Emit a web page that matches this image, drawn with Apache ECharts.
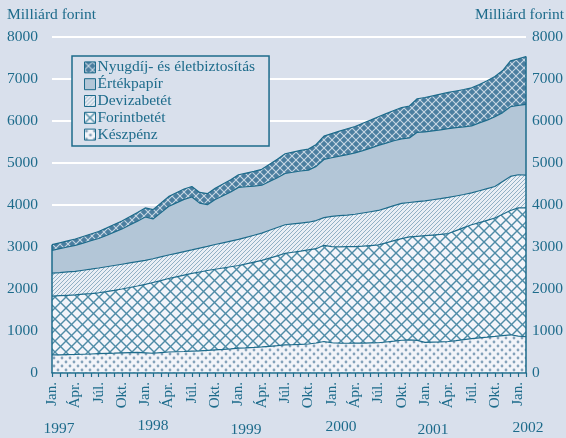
<!DOCTYPE html>
<html><head><meta charset="utf-8">
<script src="https://cdn.jsdelivr.net/npm/echarts/dist/echarts.min.js"></script>
<style>html,body{margin:0;padding:0;background:#d9e0ec}#c{width:566px;height:438px}</style>
</head><body><div id="c"></div>
<script>
// ---- data (milliárd forint), monthly Jan 1997 – Feb 2002 ----
const yearLabels = ['1997','1998','1999','2000','2001','2002'];
const monthNames = ['Jan.','Febr.','Márc.','Ápr.','Máj.','Jún.','Júl.','Aug.','Szept.','Okt.','Nov.','Dec.'];
const categories = [];
for (let y = 1997; y <= 2002; y++) for (let m = 0; m < 12; m++) if (categories.length < 62) categories.push(y + ' ' + monthNames[m]);

const keszpenz = [430,432,436,440,446,452,460,466,472,480,486,490,480,470,486,500,506,512,520,528,538,550,562,575,590,598,608,620,636,652,670,675,682,690,715,750,720,712,708,710,712,716,720,738,758,780,790,775,730,736,742,750,772,796,820,836,852,870,890,910,880,866];
const forintbetet = [1400,1408,1414,1420,1430,1440,1450,1472,1496,1520,1549,1582,1630,1685,1714,1750,1784,1818,1850,1877,1902,1920,1938,1955,1970,2002,2032,2060,2099,2138,2180,2200,2218,2240,2245,2290,2290,2293,2300,2300,2308,2319,2330,2362,2392,2420,2450,2480,2540,2549,2558,2570,2618,2664,2710,2744,2783,2820,2890,2960,3050,3064];
const devizabetet = [550,552,556,560,570,580,590,592,592,590,585,578,570,565,565,560,560,560,560,570,575,590,600,610,620,630,640,650,665,675,680,675,670,660,670,660,720,740,752,770,790,805,820,825,835,840,820,825,830,840,850,860,825,790,760,760,755,750,780,810,790,780];
const ertekpapir = [540,568,594,620,648,676,702,745,793,840,902,964,1035,948,1047,1155,1200,1245,1260,1070,993,1070,1120,1170,1240,1205,1170,1140,1160,1185,1220,1230,1240,1240,1290,1385,1395,1420,1440,1460,1485,1515,1550,1550,1545,1535,1537,1650,1640,1640,1640,1640,1625,1610,1595,1615,1630,1660,1640,1660,1650,1685];
const nyugdij = [135,140,145,150,156,162,168,175,182,190,198,206,215,222,228,235,240,245,250,255,262,270,280,290,300,325,350,380,410,440,470,480,490,500,520,555,575,595,615,630,650,665,680,700,720,745,760,800,820,835,850,860,875,890,905,915,940,960,1000,1090,1110,1140];
const yTicks = [0,1000,2000,3000,4000,5000,6000,7000,8000];

// ---- styles ----
const TEAL = '#1d6b8b';
const FONT = "'Liberation Serif','Times New Roman',serif";

function tile(w, h, fn) {
  const c = document.createElement('canvas'); c.width = w; c.height = h;
  const g = c.getContext('2d'); fn(g, w, h); return c;
}
function lattice(g, p, bg, col, lw) {
  g.fillStyle = bg; g.fillRect(0, 0, p, p);
  g.strokeStyle = col; g.lineWidth = lw;
  for (let k = -1; k <= 1; k++) {
    g.beginPath(); g.moveTo(k * p, 0); g.lineTo(k * p + p, p); g.stroke();
    g.beginPath(); g.moveTo(k * p + p, 0); g.lineTo(k * p, p); g.stroke();
  }
}
const patKesz = tile(8, 8, (g) => {
  g.fillStyle = '#f2f4f9'; g.fillRect(0, 0, 8, 8);
  g.fillStyle = '#84a2ba';
  g.beginPath(); g.arc(2, 2, 1.4, 0, 7); g.fill();
  g.beginPath(); g.arc(6, 6, 1.4, 0, 7); g.fill();
});
const patForint = tile(11, 11, (g) => lattice(g, 11, '#f3f5fa', '#4f8ca6', 1.4));
const patDeviza = tile(4, 4, (g) => {
  g.fillStyle = '#e9eef5'; g.fillRect(0, 0, 4, 4);
  g.strokeStyle = '#87a8c0'; g.lineWidth = 0.9;
  for (let k = -1; k <= 1; k++) { g.beginPath(); g.moveTo(k * 4, 4); g.lineTo(k * 4 + 4, 0); g.stroke(); }
});
const patNyug = tile(8, 8, (g) => lattice(g, 8, '#4b7e9f', '#c9d8e4', 1.1));
const colErtek = '#b3c6d7';

const fills = {
  'Készpénz': { image: patKesz, repeat: 'repeat' },
  'Forintbetét': { image: patForint, repeat: 'repeat' },
  'Devizabetét': { image: patDeviza, repeat: 'repeat' },
  'Értékpapír': colErtek,
  'Nyugdíj- és életbiztosítás': { image: patNyug, repeat: 'repeat' }
};
const seriesDefs = [
  ['Készpénz', keszpenz],
  ['Forintbetét', forintbetet],
  ['Devizabetét', devizabetet],
  ['Értékpapír', ertekpapir],
  ['Nyugdíj- és életbiztosítás', nyugdij]
];
const last = categories.length - 1;
const total = (i) => seriesDefs.reduce((s, d) => s + d[1][i], 0);

const series = seriesDefs.map(([name, data], idx) => {
  const s = {
    name, type: 'line', stack: 'all', data, showSymbol: false, symbol: 'none',
    lineStyle: { color: TEAL, width: 1.2 },
    itemStyle: { color: fills[name] },
    areaStyle: { color: fills[name], opacity: 1 },
    emphasis: { disabled: true }, animation: false, z: 2
  };
  if (idx === seriesDefs.length - 1) {
    s.markLine = {
      silent: true, symbol: ['none', 'none'], label: { show: false },
      lineStyle: { color: TEAL, width: 1.5, type: 'solid' },
      data: [
        [{ coord: [categories[0], 0] }, { coord: [categories[0], total(0)] }],
        [{ coord: [categories[last], 0] }, { coord: [categories[last], total(last)] }]
      ]
    };
  }
  return s;
});

const yearPos = [[59, 429], [153, 426], [246, 430], [341, 427], [433, 430], [528, 428]];
const graphics = yearLabels.map((t, i) => ({
  type: 'text', x: yearPos[i][0], y: yearPos[i][1],
  style: { text: t, fill: TEAL, font: '15.5px ' + FONT, textAlign: 'center', textVerticalAlign: 'middle' }
}));
graphics.push({ type: 'text', x: 7, y: 15, style: { text: 'Milliárd forint', fill: TEAL, font: '15.5px ' + FONT, textAlign: 'left', textVerticalAlign: 'middle' } });
graphics.push({ type: 'text', x: 564, y: 15, style: { text: 'Milliárd forint', fill: TEAL, font: '15.5px ' + FONT, textAlign: 'right', textVerticalAlign: 'middle' } });

const yAxisCommon = {
  type: 'value', min: yTicks[0], max: yTicks[yTicks.length - 1], interval: 1000,
  axisLine: { show: false }, axisTick: { show: false },
  axisLabel: { color: TEAL, fontSize: 15.5, fontFamily: FONT, formatter: (v) => String(v) }
};

const chart = echarts.init(document.getElementById('c'), null, { renderer: 'canvas' });
chart.setOption({
  backgroundColor: '#d9e0ec',
  animation: false,
  grid: { left: 52, right: 39, top: 37, bottom: 65, containLabel: false },
  xAxis: {
    type: 'category', data: categories, boundaryGap: false,
    axisLine: { lineStyle: { color: TEAL, width: 1.5 } },
    axisTick: { show: true, interval: 0, length: 4, lineStyle: { color: TEAL, width: 1.2 } },
    axisLabel: {
      interval: (i) => i % 3 === 0, rotate: 90, margin: 9,
      color: TEAL, fontSize: 15, fontFamily: FONT,
      formatter: (v) => v.split(' ')[1]
    },
    splitLine: { show: false }, z: 5
  },
  yAxis: [
    Object.assign({}, yAxisCommon, { position: 'left', axisLabel: Object.assign({}, yAxisCommon.axisLabel, { margin: 14 }),
      splitLine: { show: true, lineStyle: { color: '#ffffff', width: 2 } } }),
    Object.assign({}, yAxisCommon, { position: 'right', axisLabel: Object.assign({}, yAxisCommon.axisLabel, { margin: 6 }),
      splitLine: { show: false } })
  ],
  legend: {
    orient: 'vertical', left: 72, top: 56, itemGap: 0,
    itemWidth: 11, itemHeight: 11, icon: 'rect',
    padding: [3, 14, 3, 12],
    borderColor: TEAL, borderWidth: 1.5, backgroundColor: '#d9e0ec',
    textStyle: { color: TEAL, fontSize: 15.5, lineHeight: 16.8, fontFamily: FONT, padding: [0, 0, 0, -3] },
    selectedMode: false,
    data: seriesDefs.slice().reverse().map(([name]) => ({
      name, icon: 'rect',
      itemStyle: { color: fills[name], borderColor: TEAL, borderWidth: 1 }
    }))
  },
  graphic: graphics,
  series
});
</script></body></html>
